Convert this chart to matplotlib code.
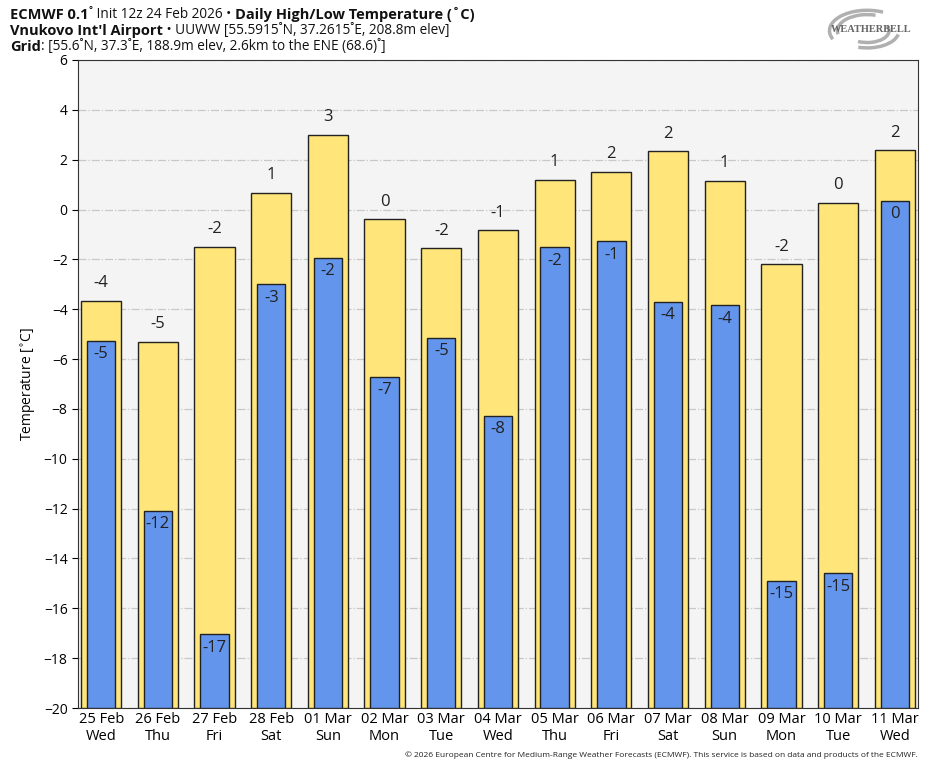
import matplotlib
matplotlib.use("Agg")
import matplotlib.pyplot as plt
from matplotlib.patches import Arc
import numpy as np

plt.rcParams['font.family'] = ['Open Sans', 'DejaVu Sans']

days = ["25 Feb\nWed", "26 Feb\nThu", "27 Feb\nFri", "28 Feb\nSat", "01 Mar\nSun",
        "02 Mar\nMon", "03 Mar\nTue", "04 Mar\nWed", "05 Mar\nThu", "06 Mar\nFri",
        "07 Mar\nSat", "08 Mar\nSun", "09 Mar\nMon", "10 Mar\nTue", "11 Mar\nWed"]
highs = [-3.65, -5.3, -1.5, 0.68, 3.0, -0.4, -1.56, -0.84, 1.2, 1.52, 2.33, 1.16, -2.2, 0.28, 2.37]
lows = [-5.26, -12.08, -17.05, -3.0, -1.93, -6.7, -5.14, -8.27, -1.52, -1.28, -3.7, -3.85, -14.9, -14.6, 0.36]
ymin, ymax = -20, 6

fig = plt.figure(figsize=(9.35, 7.68), dpi=100)
ax = fig.add_axes([0.0834, 0.0781, 0.8984, 0.8438])
ax.set_facecolor("#f4f4f4")

x = np.arange(len(days))
ax.bar(x, np.array(highs) - ymin, bottom=ymin, width=0.71, color="#ffe57a",
       edgecolor="#222222", linewidth=1.0, zorder=3)
ax.bar(x, np.array(lows) - ymin, bottom=ymin, width=0.5, color="#6495ed",
       edgecolor="#222222", linewidth=1.0, zorder=4)

for xi, h, l in zip(x, highs, lows):
    ax.annotate(f"{round(h):d}", (xi, h), xytext=(0, 7), textcoords="offset points",
                ha="center", va="bottom", fontsize=12, color="#222222", zorder=5)
    ax.annotate(f"{round(l):d}", (xi, l), xytext=(0, -4), textcoords="offset points",
                ha="center", va="top", fontsize=12, color="#222222", zorder=5)

ax.set_xlim(-0.41, len(days) - 0.59)
ax.set_ylim(ymin, ymax)
ax.set_yticks(range(ymin, ymax + 1, 2))
ax.set_xticks(x)
ax.set_xticklabels(days, fontsize=10.5, linespacing=1.15)
ax.tick_params(axis="x", length=0, pad=3)
ax.tick_params(axis="y", labelsize=10, length=4)
ax.yaxis.grid(True, color="#c8c8c8", linestyle="-.", linewidth=0.9, zorder=0)
ax.set_ylabel("Temperature [$^{\\circ}$C]", fontsize=10)
for s in ax.spines.values():
    s.set_color("#333333")


def line(y, parts):
    xpos = 0.011
    r = fig.canvas.get_renderer()
    for txt, bold in parts:
        t = fig.text(xpos, y, txt, fontsize=10.5 if bold else 9.8,
                     fontweight="bold" if bold else "normal",
                     va="center", color="#111111")
        bb = t.get_window_extent(renderer=r)
        xpos += bb.width / fig.bbox.width


line(0.981, [("ECMWF 0.1", True), ("˚ Init 12z 24 Feb 2026 • ", False),
             ("Daily High/Low Temperature (˚C)", True)])
line(0.960, [("Vnukovo Int'l Airport", True), (" • UUWW [55.5915˚N, 37.2615˚E, 208.8m elev]", False)])
line(0.939, [("Grid", True), (": [55.6˚N, 37.3˚E, 188.9m elev, 2.6km to the ENE (68.6)˚]", False)])

# logo
lax = fig.add_axes([0.885, 0.925, 0.085, 0.07])
lax.set_xlim(-1, 1)
lax.set_ylim(-1, 1)
lax.axis("off")
for r_, a1, a2 in [(0.95, 60, 200), (0.75, 70, 190), (0.55, 240, 380), (0.8, 250, 350)]:
    lax.add_patch(Arc((0, 0), 2 * r_, 1.6 * r_, theta1=a1, theta2=a2, color="#b0b0b0", lw=2.5))
lax.text(0.1, 0.05, "WEATHERBELL", fontsize=7.5, fontweight="bold", color="#666666",
         ha="center", va="center", family="Liberation Serif")

fig.text(0.982, 0.017, "© 2026 European Centre for Medium-Range Weather Forecasts (ECMWF). "
         "This service is based on data and products of the ECMWF.",
         fontsize=6, ha="right", va="center", color="#222222")

fig.savefig("out.png", dpi=100)
